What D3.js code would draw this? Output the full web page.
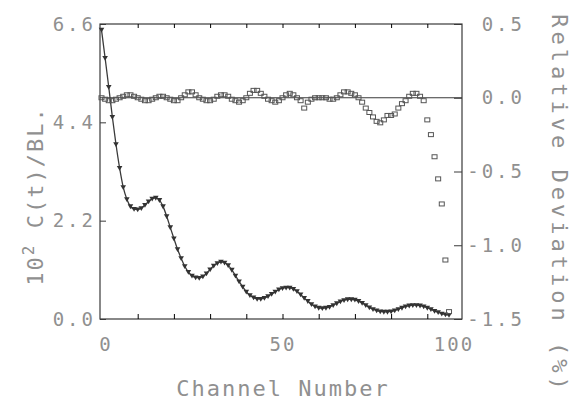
<!DOCTYPE html>
<html>
<head>
<meta charset="utf-8">
<script src="https://cdn.jsdelivr.net/npm/d3@7"></script>
<style>
  body { margin: 0; background: #fff; }
  text { font-family: "DejaVu Sans Mono", monospace; fill: #909090; }
</style>
</head>
<body>
<div id="chart"></div>
<script>
// channel numbers
const channels = d3.range(0, 97);

// 10^2 C(t)/BL. per channel (triangles + fit line)
const corr = [
  6.47, 5.84, 5.19, 4.52, 3.91, 3.38, 2.95, 2.68, 2.52, 2.46,
  2.45, 2.48, 2.55, 2.63, 2.69, 2.71, 2.66, 2.52, 2.30, 2.05,
  1.80, 1.56, 1.36, 1.18, 1.05, 0.97, 0.93, 0.92, 0.95, 1.02,
  1.11, 1.19, 1.25, 1.28, 1.26, 1.20, 1.10, 0.97, 0.84, 0.72,
  0.61, 0.53, 0.48, 0.45, 0.45, 0.47, 0.51, 0.56, 0.61, 0.66,
  0.69, 0.70, 0.70, 0.67, 0.62, 0.55, 0.47, 0.40, 0.33, 0.28,
  0.25, 0.24, 0.25, 0.27, 0.31, 0.35, 0.39, 0.42, 0.44, 0.44,
  0.43, 0.40, 0.36, 0.31, 0.26, 0.22, 0.19, 0.17, 0.16, 0.16,
  0.17, 0.19, 0.22, 0.25, 0.28, 0.30, 0.31, 0.31, 0.30, 0.28,
  0.25, 0.22, 0.18, 0.15, 0.12, 0.10, 0.09
];

// relative deviation (%) per channel (squares)
const dev = [
  0.00, -0.01, -0.02, -0.02, -0.01, 0.00, 0.01, 0.02, 0.02, 0.01,
  0.00, -0.01, -0.02, -0.02, -0.01, 0.00, 0.01, 0.01, 0.00, -0.01,
  -0.02, -0.02, 0.00, 0.02, 0.04, 0.04, 0.02, 0.00, -0.01, -0.02,
  -0.02, -0.01, 0.01, 0.02, 0.02, 0.01, -0.01, -0.02, -0.03, -0.02,
  0.00, 0.03, 0.05, 0.05, 0.03, 0.01, -0.01, -0.02, -0.03, -0.02,
  0.00, 0.02, 0.03, 0.02, 0.00, -0.02, -0.07, -0.03, -0.01, 0.00,
  0.00, 0.00, 0.00, -0.01, -0.01, 0.00, 0.02, 0.04, 0.04, 0.03,
  0.02, 0.00, -0.03, -0.07, -0.10, -0.13, -0.16, -0.17, -0.15, -0.12,
  -0.12, -0.11, -0.07, -0.04, -0.02, 0.01, 0.03, 0.03, 0.01, -0.02,
  -0.15, -0.25, -0.40, -0.55, -0.72, -1.10, -1.45
];

const xTicks = [0, 50, 100];
const leftTicks = [0, 2.2, 4.4, 6.6];
const rightTicks = [-1.5, -1.0, -0.5, 0.0, 0.5];

const W = 575, H = 404;
const L = 100, R = 462, T = 24, B = 319;
const ink = '#3a3a3a';
const grey = '#909090';
const mono = '"DejaVu Sans Mono", monospace';

const svg = d3.select('#chart').append('svg')
  .attr('width', W).attr('height', H);

const x = d3.scaleLinear().domain([0, 100]).range([L + 1.5, R + 1.5]);
const y = d3.scaleLinear().domain([0, 6.6]).range([B, T]);
const y2 = d3.scaleLinear().domain([-1.5, 0.5]).range([B, T]);

// frame
svg.append('rect')
  .attr('x', L).attr('y', T).attr('width', R - L).attr('height', B - T)
  .attr('fill', 'none').attr('stroke', ink).attr('stroke-width', 1.2);

// minor ticks top and bottom
const minor = d3.range(10, 100, 10);
svg.append('g')
  .attr('transform', `translate(0,${T})`)
  .call(d3.axisTop(x).tickValues(minor).tickSize(-4).tickFormat(''))
  .call(g => g.select('.domain').remove());
svg.append('g')
  .attr('transform', `translate(0,${B})`)
  .call(d3.axisBottom(x).tickValues(minor).tickSize(-5).tickFormat(''))
  .call(g => g.select('.domain').remove());

// x labels
const labelShift = { 0: 4, 50: 0, 100: -10 };
svg.append('g')
  .attr('transform', `translate(0,${B})`)
  .call(d3.axisBottom(x).tickValues(xTicks).tickSize(0).tickPadding(19).tickFormat(d3.format('d')))
  .call(g => g.select('.domain').remove())
  .call(g => g.selectAll('text')
    .attr('dx', d => labelShift[d])
    .attr('font-size', 19).attr('font-family', mono)
    .attr('fill', grey).style('letter-spacing', '2px'));

// left axis
svg.append('g')
  .attr('transform', `translate(${L},0)`)
  .call(d3.axisLeft(y).tickValues(leftTicks).tickSizeInner(-6).tickSizeOuter(0)
    .tickPadding(4).tickFormat(d3.format('.1f')))
  .call(g => g.select('.domain').remove())
  .call(g => g.selectAll('line').attr('stroke', ink))
  .call(g => g.selectAll('text')
    .attr('font-size', 19).attr('font-family', mono)
    .attr('fill', grey).style('letter-spacing', '3px'));

// right axis
svg.append('g')
  .attr('transform', `translate(${R},0)`)
  .call(d3.axisRight(y2).tickValues(rightTicks).tickSizeInner(-8).tickSizeOuter(0)
    .tickPadding(6).tickFormat(d => d3.format('.1f')(d).replace('−', '-')))
  .call(g => g.select('.domain').remove())
  .call(g => g.selectAll('line').attr('stroke', ink))
  .call(g => g.selectAll('text')
    .attr('text-anchor', 'end').attr('x', 63)
    .attr('font-size', 19).attr('font-family', mono)
    .attr('fill', grey).style('letter-spacing', '3px'));

// zero line for deviation
svg.append('line')
  .attr('x1', L).attr('x2', R)
  .attr('y1', y2(0)).attr('y2', y2(0))
  .attr('stroke', ink).attr('stroke-width', 1.2);

// fit line
const line = d3.line()
  .x((d, i) => x(channels[i]))
  .y(d => y(d))
  .curve(d3.curveMonotoneX);
svg.append('path')
  .datum(corr)
  .attr('d', line)
  .attr('fill', 'none').attr('stroke', ink).attr('stroke-width', 1.3);

// data triangles
svg.append('g').selectAll('path')
  .data(corr)
  .join('path')
    .attr('transform', (d, i) => `translate(${x(channels[i])},${y(d)})`)
    .attr('d', 'M-2.8,-2 L2.8,-2 L0,2.8 Z')
    .attr('fill', '#333');

// deviation squares
svg.append('g').selectAll('rect')
  .data(dev)
  .join('rect')
    .attr('x', (d, i) => x(channels[i]) - 2.5)
    .attr('y', d => y2(d) - 2)
    .attr('width', 5).attr('height', 4)
    .attr('fill', 'none').attr('stroke', '#555').attr('stroke-width', 1);

// axis titles
svg.append('text')
  .attr('x', 283).attr('y', 396)
  .attr('text-anchor', 'middle')
  .attr('font-size', 22)
  .style('letter-spacing', '2px')
  .text('Channel Number');

const yt = svg.append('text')
  .attr('transform', 'translate(43,196) rotate(-90)')
  .attr('text-anchor', 'middle')
  .attr('font-size', 22)
  .style('letter-spacing', '2px');
yt.append('tspan').text('10');
yt.append('tspan').attr('dy', -9).attr('font-size', 16).text('2');
yt.append('tspan').attr('dy', 9).text(' C(t)/BL.');

svg.append('text')
  .attr('transform', 'translate(552,204) rotate(90)')
  .attr('text-anchor', 'middle')
  .attr('font-size', 22)
  .style('letter-spacing', '4px')
  .text('Relative Deviation (%)');
</script>
</body>
</html>
